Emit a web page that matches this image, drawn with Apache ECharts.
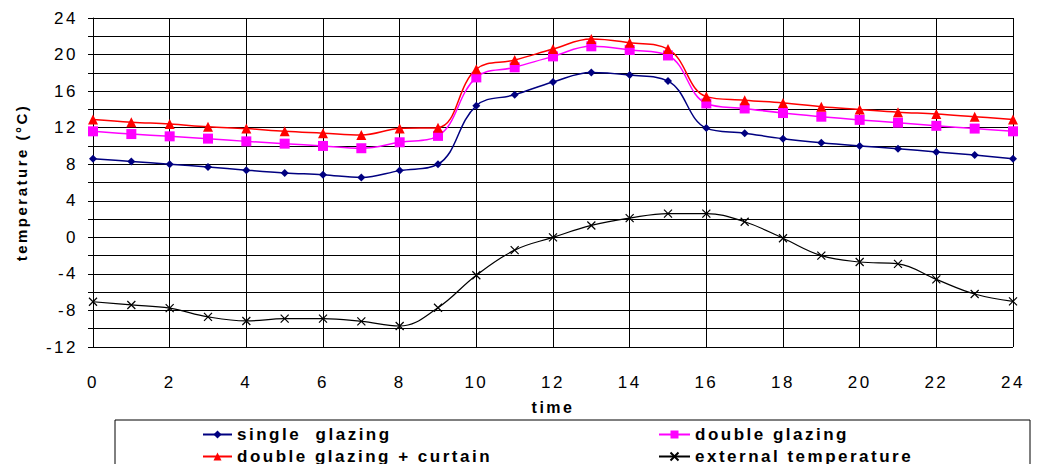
<!DOCTYPE html>
<html>
<head>
<meta charset="utf-8">
<script src="https://cdn.jsdelivr.net/npm/echarts@6/dist/echarts.min.js"></script>
<style>
  html, body { margin: 0; padding: 0; background: #fff; }
  #chart { width: 1037px; height: 464px; overflow: hidden; }
  /* the original text is drawn wide, spread the letters a little */
  #chart text { letter-spacing: 2.5px; }
</style>
</head>
<body>
<div id="chart"></div>
<script>
// hours of the day
var hours = [0, 1, 2, 3, 4, 5, 6, 7, 8, 9, 10, 11, 12, 13, 14, 15, 16, 17, 18, 19, 20, 21, 22, 23, 24];

var singleGlazing = [8.6, 8.3, 8.0, 7.7, 7.35, 7.05, 6.85, 6.55, 7.3, 8.0, 14.4, 15.6, 17.0, 18.05, 17.75, 17.1,
  11.95, 11.4, 10.8, 10.35, 10.0, 9.7, 9.35, 9.0, 8.6];
var doubleGlazing = [11.6, 11.3, 11.05, 10.8, 10.5, 10.25, 10.0, 9.75, 10.4, 11.1, 17.5, 18.6, 19.8, 20.9, 20.5, 19.9,
  14.65, 14.1, 13.6, 13.2, 12.85, 12.55, 12.2, 11.9, 11.6];
var doubleCurtain = [12.9, 12.6, 12.4, 12.1, 11.9, 11.6, 11.4, 11.2, 11.9, 12.0, 18.4, 19.4, 20.6, 21.7, 21.3, 20.6,
  15.4, 15.0, 14.7, 14.3, 14.0, 13.7, 13.5, 13.2, 12.9];
var externalTemp = [-7.05, -7.4, -7.75, -8.7, -9.15, -8.9, -8.9, -9.2, -9.7, -7.7, -4.15, -1.4, 0.0, 1.3, 2.1, 2.6,
  2.6, 1.7, -0.1, -2.0, -2.7, -2.9, -4.6, -6.2, -7.0];

var seriesNames = ["single  glazing", "double glazing", "double glazing + curtain", "external temperature"];

function pairs(vals) {
  return hours.map(function (h, i) { return [h, vals[i]]; });
}

var crossPath = "path://M0,0L10,10M10,0L0,10";
var font = "Liberation Sans, Arial, sans-serif";

var myChart = echarts.init(document.getElementById("chart"), null, { renderer: "svg" });

var legendText = { fontFamily: font, fontSize: 17, fontWeight: "bold", color: "#000" };
function legendAt(name, left, top, w) {
  return {
    data: [name], left: left, top: top, itemWidth: w, itemHeight: 10, itemGap: 0,
    textStyle: legendText, selectedMode: false, padding: 0
  };
}

var option = {
  animation: false,
  grid: { left: 93, right: 24, top: 18, bottom: 117 },
  legend: [
    legendAt(seriesNames[0], 202, 426, 29),
    legendAt(seriesNames[1], 658, 426, 31),
    legendAt(seriesNames[2], 202, 448, 29),
    legendAt(seriesNames[3], 658, 448, 31)
  ],
  graphic: [{
    type: "rect",
    shape: { x: 115, y: 420, width: 915, height: 60 },
    style: { fill: "none", stroke: "#000", lineWidth: 1 }
  }],
  xAxis: {
    type: "value", min: 0, max: 24, interval: 2,
    name: "time", nameLocation: "middle", nameGap: 52,
    nameTextStyle: { fontFamily: font, fontSize: 16, fontWeight: "bold", color: "#000" },
    axisLine: { show: true, lineStyle: { color: "#000", width: 1 } },
    axisTick: { show: true, length: 5, lineStyle: { color: "#000" } },
    axisLabel: { fontFamily: font, fontSize: 17, color: "#000", margin: 27 },
    splitLine: { show: true, lineStyle: { color: "#000", width: 1 } }
  },
  yAxis: {
    type: "value", min: -12, max: 24, interval: 2,
    name: "temperature (°C)", nameLocation: "middle", nameGap: 64, nameRotate: 90,
    nameTextStyle: { fontFamily: font, fontSize: 15, fontWeight: "bold", color: "#000" },
    axisLine: { show: true, lineStyle: { color: "#000", width: 1 } },
    axisTick: { show: true, length: 5, lineStyle: { color: "#000" } },
    axisLabel: {
      fontFamily: font, fontSize: 17, color: "#000", margin: 15,
      formatter: function (v) { return v % 4 === 0 ? String(v) : ""; }
    },
    splitLine: { show: true, lineStyle: { color: "#000", width: 1 } }
  },
  series: [
    {
      name: seriesNames[0], type: "line", smooth: 0.4, data: pairs(singleGlazing),
      symbol: "diamond", symbolSize: 8,
      itemStyle: { color: "#000080" }, lineStyle: { color: "#000080", width: 1.5 }
    },
    {
      name: seriesNames[1], type: "line", smooth: 0.4, data: pairs(doubleGlazing),
      symbol: "rect", symbolSize: 10,
      itemStyle: { color: "#FF00FF" }, lineStyle: { color: "#FF00FF", width: 1.5 }
    },
    {
      name: seriesNames[2], type: "line", smooth: 0.4, data: pairs(doubleCurtain),
      symbol: "triangle", symbolSize: 10,
      itemStyle: { color: "#FF0000" }, lineStyle: { color: "#FF0000", width: 1.5 }
    },
    {
      name: seriesNames[3], type: "line", smooth: 0.4, data: pairs(externalTemp),
      symbol: crossPath, symbolSize: 8,
      itemStyle: { color: "none", borderColor: "#000", borderWidth: 1.2 },
      lineStyle: { color: "#000", width: 1.2 }
    }
  ]
};

option && myChart.setOption(option, true);
</script>
</body>
</html>
